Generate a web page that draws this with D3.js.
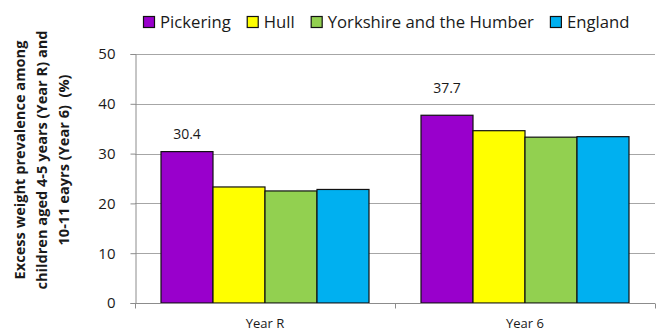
<!DOCTYPE html>
<html>
<head>
<meta charset="utf-8">
<script src="https://cdn.jsdelivr.net/npm/d3@7"></script>
<style>
  html, body { margin: 0; padding: 0; background: #fff; }
  svg { display: block; }
  text { font-family: "Open Sans", "Noto Sans", sans-serif; fill: #1a1a1a; }
</style>
</head>
<body>
<svg id="chart" width="660" height="331"></svg>
<script>
// Excess weight prevalence (%) by school year and area
const categories = ["Year R", "Year 6"];
const seriesNames = ["Pickering", "Hull", "Yorkshire and the Humber", "England"];
const pickering = [30.4, 37.7];
const hull = [23.3, 34.6];
const yorkshire = [22.5, 33.3];
const england = [22.8, 33.4];
const yTicks = [0, 10, 20, 30, 40, 50];
const titleLines = [
  "Excess weight prevalence among",
  "children aged 4-5 years (Year R) and",
  "10-11 eayrs (Year 6)  (%)"
];

const seriesValues = [pickering, hull, yorkshire, england];
const colors = ["#9900CC", "#FFFF00", "#92D050", "#00B0F0"];

const svg = d3.select("#chart");
const plot = { left: 135, right: 655, top: 54, bottom: 303 };

const x0 = d3.scaleBand().domain(categories).range([plot.left, plot.right]).paddingInner(0).paddingOuter(0);
const x1 = d3.scaleBand().domain(seriesNames).range([0, x0.bandwidth()]).paddingInner(0).paddingOuter(0.5);
const y = d3.scaleLinear().domain([0, 50]).range([plot.bottom, plot.top]);

// horizontal gridlines
svg.append("g").selectAll("line").data(yTicks.filter(t => t > 0)).join("line")
  .attr("x1", plot.left).attr("x2", plot.right)
  .attr("y1", d => Math.round(y(d)) + 0.5).attr("y2", d => Math.round(y(d)) + 0.5)
  .attr("stroke", "#a6a6a6").attr("stroke-width", 1);

// bars
const groups = svg.append("g").selectAll("g").data(categories).join("g")
  .attr("transform", d => `translate(${x0(d)},0)`);

groups.selectAll("rect")
  .data((c, ci) => seriesNames.map((s, si) => ({ s, si, v: seriesValues[si][ci] })))
  .join("rect")
  .attr("x", d => x1(d.s))
  .attr("y", d => y(d.v))
  .attr("width", x1.bandwidth())
  .attr("height", d => y(0) - y(d.v))
  .attr("fill", d => colors[d.si])
  .attr("stroke", "#111")
  .attr("stroke-width", 1.2);

// value labels above the Pickering bars
const labelLift = { "Year R": 13, "Year 6": 22 };
svg.append("g").selectAll("text").data(categories).join("text")
  .attr("x", (c) => x0(c) + x1("Pickering") + x1.bandwidth() / 2)
  .attr("y", (c, i) => y(pickering[i]) - labelLift[c])
  .attr("text-anchor", "middle")
  .attr("font-size", 14)
  .text((c, i) => pickering[i].toFixed(1));

// y axis
const yAxis = svg.append("g")
  .attr("transform", `translate(${plot.left + 0.5},0)`)
  .call(d3.axisLeft(y).tickValues(yTicks).tickSize(5).tickPadding(15).tickFormat(d3.format("d")));
yAxis.select(".domain").attr("stroke", "#8c8c8c");
yAxis.selectAll(".tick line").attr("stroke", "#8c8c8c");
yAxis.selectAll(".tick text").attr("font-size", 15).attr("fill", "#1a1a1a")
  .style("font-family", "'Open Sans', sans-serif");

// x axis with ticks on category boundaries
const xAxis = svg.append("g").attr("transform", `translate(0,${plot.bottom + 0.5})`);
xAxis.append("line").attr("x1", plot.left).attr("x2", plot.right)
  .attr("stroke", "#8c8c8c");
const boundaries = categories.map(c => x0(c)).concat([plot.right]);
xAxis.selectAll("line.tk").data(boundaries).join("line").attr("class", "tk")
  .attr("x1", d => Math.round(d) + 0.5).attr("x2", d => Math.round(d) + 0.5)
  .attr("y1", 0).attr("y2", 5).attr("stroke", "#8c8c8c");
xAxis.selectAll("text").data(categories).join("text")
  .attr("x", d => x0(d) + x0.bandwidth() / 2)
  .attr("y", 24)
  .attr("text-anchor", "middle")
  .attr("font-size", 13)
  .text(d => d);

// y axis title
const title = svg.append("text")
  .attr("transform", "translate(0,160) rotate(-90)")
  .attr("text-anchor", "middle")
  .attr("font-size", 14.6)
  .attr("font-weight", "bold")
  .style("white-space", "pre");
titleLines.forEach((t, i) => {
  title.append("tspan").attr("x", 0).attr("y", 25 + i * 22).text(t);
});

// legend
const legend = svg.append("g").attr("transform", "translate(143,16)");
let lx = 0;
seriesNames.forEach((name, i) => {
  const item = legend.append("g").attr("transform", `translate(${lx},0)`);
  item.append("rect").attr("x", 0.5).attr("y", 0.5).attr("width", 11).attr("height", 11)
    .attr("fill", colors[i]).attr("stroke", "#111").attr("stroke-width", 1.2);
  const txt = item.append("text").attr("x", 17).attr("y", 11.5)
    .attr("font-size", 16.7).text(name);
  lx += 17 + txt.node().getComputedTextLength() + 16;
});
</script>
</body>
</html>
